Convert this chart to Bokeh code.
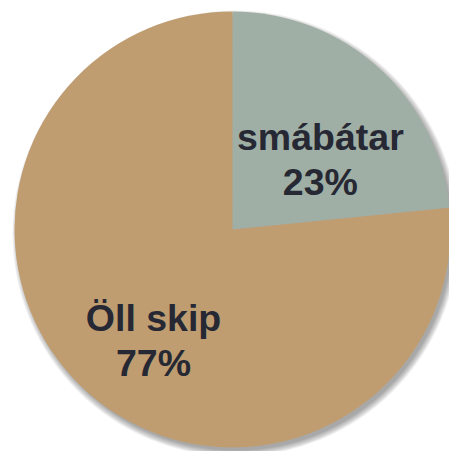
import math
from bokeh.plotting import figure
from bokeh.models import ColumnDataSource, Range1d
from bokeh.core.properties import value
from bokeh.embed import file_html
from bokeh.resources import INLINE

categories = ["smábátar", "Öll skip"]
shares = [23.4, 76.6]
colors = ["#a0afa5", "#bf9d71"]
label_radius = [112.3, 136.0]
label_angle_deg = [38.5, 234.5]

W, H = 449, 451
cx, cy, R = 232, 222, 218

total = sum(shares)
starts, ends = [], []
a = math.pi / 2
for s in shares:
    sweep = 2 * math.pi * s / total
    ends.append(a)
    starts.append(a - sweep)
    a -= sweep

pct = [f"{round(100 * s / total)}%" for s in shares]
lx = [cx + r * math.cos(math.radians(t)) for r, t in zip(label_radius, label_angle_deg)]
ly = [cy + r * math.sin(math.radians(t)) for r, t in zip(label_radius, label_angle_deg)]

src = ColumnDataSource(dict(cat=categories, start=starts, end=ends, color=colors,
                            pct=pct, lx=lx, ly=ly))

p = figure(width=W, height=H, x_range=Range1d(0, W), y_range=Range1d(0, H),
           output_backend="svg", toolbar_location=None, min_border=0)
p.axis.visible = False
p.grid.visible = False
p.outline_line_color = None

# soft drop shadow
for k in range(7):
    p.circle(x=cx + 3, y=cy - 4, radius=R + 5 - k, radius_units="screen",
             fill_color="#303030", fill_alpha=0.07, line_color=None)

p.wedge(x=cx, y=cy, radius=R, radius_units="screen", start_angle="start", end_angle="end",
        fill_color="color", line_color=None, source=src)

p.text(x="lx", y="ly", text="cat", source=src, y_offset=-22.5,
       text_font=value("Liberation Sans"), text_font_style="bold", text_font_size="37.5px",
       text_color="#262833", text_align="center", text_baseline="alphabetic")
p.text(x="lx", y="ly", text="pct", source=src, y_offset=22.5,
       text_font=value("Liberation Sans"), text_font_style="bold", text_font_size="37.5px",
       text_color="#262833", text_align="center", text_baseline="alphabetic")

open("out.html", "w").write(file_html(p, INLINE))
